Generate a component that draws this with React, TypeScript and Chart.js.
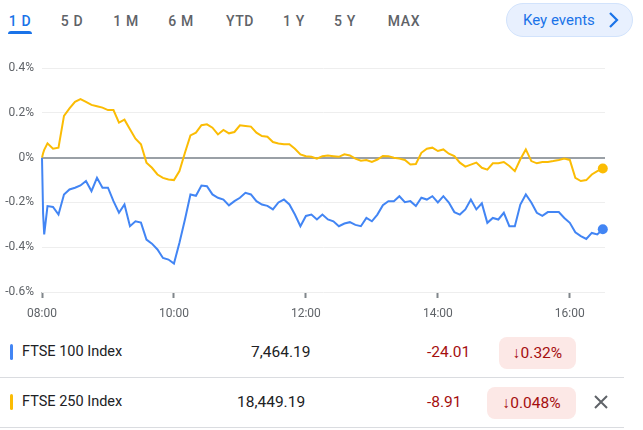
import React, { useEffect, useRef } from "react";
import { Chart, registerables } from "chart.js";

Chart.register(...registerables);

// minutes after 08:00
const minutes = [
  0, 1, 2, 5, 10, 15, 20, 25, 30, 35, 40, 45, 50, 55, 60, 65, 70, 75, 80, 85, 90, 95, 100,
  105, 110, 115, 120, 125, 130, 135, 140, 145, 150, 155, 160, 165, 170, 175, 180, 185, 190,
  195, 200, 205, 210, 215, 220, 225, 230, 235, 240, 245, 250, 255, 260, 265, 270, 275, 280,
  285, 290, 295, 300, 305, 310, 315, 320, 325, 330, 335, 340, 345, 350, 355, 360, 365, 370,
  375, 380, 385, 390, 395, 400, 405, 410, 415, 420, 425, 430, 435, 440, 445, 450, 455, 460,
  465, 470, 475, 480, 485, 490, 495, 500, 505, 510,
];

// FTSE 100 Index, % change
const ftse100 = [
  0, -0.25, -0.343, -0.216, -0.22, -0.254, -0.164, -0.142, -0.134, -0.124, -0.104, -0.149,
  -0.09, -0.134, -0.134, -0.194, -0.246, -0.209, -0.306, -0.284, -0.29, -0.366, -0.384,
  -0.41, -0.448, -0.455, -0.473, -0.38, -0.276, -0.164, -0.17, -0.124, -0.127, -0.164,
  -0.179, -0.187, -0.213, -0.194, -0.179, -0.157, -0.164, -0.194, -0.209, -0.215, -0.231,
  -0.2, -0.187, -0.209, -0.254, -0.306, -0.26, -0.254, -0.276, -0.254, -0.276, -0.284,
  -0.306, -0.294, -0.288, -0.3, -0.306, -0.269, -0.284, -0.254, -0.212, -0.194, -0.194,
  -0.172, -0.199, -0.194, -0.216, -0.179, -0.187, -0.172, -0.2, -0.172, -0.2, -0.243,
  -0.254, -0.231, -0.187, -0.231, -0.204, -0.291, -0.269, -0.276, -0.246, -0.306, -0.306,
  -0.209, -0.164, -0.2, -0.246, -0.26, -0.243, -0.243, -0.243, -0.269, -0.291, -0.333,
  -0.35, -0.363, -0.336, -0.343, -0.32,
];

// FTSE 250 Index, % change
const ftse250 = [
  0, 0.02, 0.035, 0.064, 0.04, 0.045, 0.187, 0.22, 0.25, 0.262, 0.25, 0.236, 0.23, 0.224,
  0.213, 0.213, 0.157, 0.17, 0.127, 0.085, 0.06, -0.022, -0.045, -0.075, -0.09, -0.097,
  -0.1, -0.06, 0.022, 0.1, 0.112, 0.145, 0.149, 0.134, 0.104, 0.124, 0.109, 0.115, 0.145,
  0.142, 0.139, 0.112, 0.097, 0.094, 0.07, 0.064, 0.06, 0.06, 0.04, 0.015, 0.007, 0.004,
  -0.004, 0.007, 0.01, 0.007, 0.004, 0.015, 0.01, -0.004, -0.013, -0.01, -0.019, -0.008,
  0.008, 0.007, 0, -0.004, -0.01, -0.03, -0.028, 0.022, 0.04, 0.045, 0.03, 0.037, 0.018,
  0.007, -0.022, -0.04, -0.031, -0.022, -0.045, -0.053, -0.025, -0.025, -0.019, -0.037,
  -0.06, -0.007, 0.037, -0.015, -0.025, -0.019, -0.019, -0.015, -0.01, -0.004, -0.01,
  -0.09, -0.104, -0.1, -0.075, -0.06, -0.048,
];

const xTickMinutes = [0, 120, 240, 360, 480];
const xTickLabels = ["08:00", "10:00", "12:00", "14:00", "16:00"];

const tabs = ["1 D", "5 D", "1 M", "6 M", "YTD", "1 Y", "5 Y", "MAX"];
const tabCenters = [20, 72, 126, 181, 240, 294, 345, 404];

const seriesNames = ["FTSE 100 Index", "FTSE 250 Index"];
const seriesColors = ["#4285f4", "#fbbc04"];
const prices = ["7,464.19", "18,449.19"];
const changes = ["-24.01", "-8.91"];
const pctChanges = ["0.32%", "0.048%"];

const FONT = "Roboto, Arial, sans-serif";

function LineChart() {
  const ref = useRef<HTMLCanvasElement | null>(null);
  useEffect(() => {
    if (!ref.current) return;
    const mk = (vals: number[], color: string) => ({
      data: minutes.map((m, i) => ({ x: m, y: vals[i] })),
      borderColor: color,
      backgroundColor: color,
      borderWidth: 2,
      pointRadius: (c: any) => (c.dataIndex === minutes.length - 1 ? 5 : 0),
      pointHoverRadius: 0,
      pointBorderWidth: 0,
      pointBackgroundColor: color,
      tension: 0,
      clip: 10,
    });
    const chart = new Chart(ref.current, {
      type: "line",
      data: {
        datasets: [mk(ftse100, seriesColors[0]), mk(ftse250, seriesColors[1])],
      },
      options: {
        animation: false,
        responsive: false,
        maintainAspectRatio: false,
        layout: { padding: { top: 8, right: 38, left: 0, bottom: 0 } },
        plugins: { legend: { display: false }, tooltip: { enabled: false } },
        scales: {
          x: {
            type: "linear",
            min: 0,
            max: 512,
            afterBuildTicks: (s: any) => {
              s.ticks = xTickMinutes.map((v) => ({ value: v }));
            },
            afterFit: (s: any) => {
              s.height = 33;
            },
            ticks: {
              callback: (v: any) => {
                const i = xTickMinutes.indexOf(Number(v));
                return i >= 0 ? xTickLabels[i] : "";
              },
              font: { family: FONT, size: 12 },
              color: "#5f6368",
              padding: 9,
              maxRotation: 0,
              autoSkip: false,
            },
            grid: {
              drawOnChartArea: false,
              drawTicks: true,
              tickLength: 6,
              tickWidth: 2,
              tickColor: "#80868b",
              color: "#80868b",
            },
            border: { display: false },
          },
          y: {
            min: -0.6,
            max: 0.4,
            afterBuildTicks: (s: any) => {
              s.ticks = [-0.6, -0.4, -0.2, 0, 0.2, 0.4].map((v) => ({ value: v }));
            },
            afterFit: (s: any) => {
              s.width = 42;
            },
            ticks: {
              callback: (v: any) => {
                const n = Math.round(Number(v) * 10) / 10;
                return n === 0 ? "0%" : `${n.toFixed(1)}%`;
              },
              font: { family: FONT, size: 12 },
              color: "#5f6368",
              padding: 8,
            },
            grid: {
              drawTicks: false,
              color: (c: any) =>
                c.tick && Math.abs(c.tick.value) < 1e-9 ? "#9aa0a6" : "#eeeeee",
              lineWidth: (c: any) =>
                c.tick && Math.abs(c.tick.value) < 1e-9 ? 2 : 1,
            },
            border: { display: false },
          },
        },
      } as any,
    });
    return () => chart.destroy();
  }, []);
  return (
    <canvas
      ref={ref}
      width={643}
      height={272}
      style={{ position: "absolute", left: 0, top: 53, width: 643, height: 272 }}
    />
  );
}

export default function App() {
  const rowCenters = [352, 402];
  const pillBoxes = [
    { left: 499, width: 77, top: 337, height: 32 },
    { left: 487, width: 89, top: 387, height: 32 },
  ];
  const priceLefts = [251, 237];
  return (
    <div
      style={{
        position: "fixed",
        left: 0,
        top: 0,
        width: 643,
        height: 430,
        background: "#ffffff",
        overflow: "hidden",
        fontFamily: FONT,
      }}
    >
      {tabs.map((t, i) => (
        <div
          key={t}
          style={{
            position: "absolute",
            left: tabCenters[i],
            top: 12,
            transform: "translateX(-50%)",
            fontSize: 14,
            lineHeight: "18px",
            fontWeight: 500,
            letterSpacing: 0.6,
            whiteSpace: "pre",
            color: i === 0 ? "#1a73e8" : "#5f6368",
          }}
        >
          {t}
        </div>
      ))}
      <div
        style={{
          position: "absolute",
          left: 8,
          top: 31,
          width: 24,
          height: 3,
          borderRadius: "3px 3px 0 0",
          background: "#1a73e8",
        }}
      />
      <div
        style={{
          position: "absolute",
          left: 506,
          top: 3,
          width: 125,
          height: 32,
          borderRadius: 17,
          background: "#e8f0fe",
          border: "1px solid #d2e3fc",
        }}
      >
        <div
          style={{
            position: "absolute",
            left: 16,
            top: 7,
            fontSize: 15,
            lineHeight: "18px",
            color: "#1a73e8",
            whiteSpace: "pre",
          }}
        >
          Key events
        </div>
        <svg
          width="12"
          height="18"
          viewBox="0 0 12 18"
          style={{ position: "absolute", left: 100, top: 7 }}
        >
          <path d="M3 2 L10 9 L3 16" stroke="#1a73e8" strokeWidth="2.2" fill="none" />
        </svg>
      </div>

      <LineChart />

      {seriesNames.map((n, i) => (
        <React.Fragment key={n}>
          <div
            style={{
              position: "absolute",
              left: 10,
              top: rowCenters[i] - 8,
              width: 3,
              height: 16,
              borderRadius: 2,
              background: seriesColors[i],
            }}
          />
          <div
            style={{
              position: "absolute",
              left: 22,
              top: rowCenters[i] - 10,
              fontSize: 14.5,
              lineHeight: "20px",
              color: "#202124",
              whiteSpace: "pre",
            }}
          >
            {n}
          </div>
          <div
            style={{
              position: "absolute",
              left: priceLefts[i],
              top: rowCenters[i] - 10,
              fontSize: 15.5,
              lineHeight: "20px",
              color: "#202124",
              whiteSpace: "pre",
            }}
          >
            {prices[i]}
          </div>
          <div
            style={{
              position: "absolute",
              left: 427,
              top: rowCenters[i] - 10,
              fontSize: 15.5,
              lineHeight: "20px",
              color: "#a50e0e",
              whiteSpace: "pre",
            }}
          >
            {changes[i]}
          </div>
          <div
            style={{
              position: "absolute",
              left: pillBoxes[i].left,
              top: pillBoxes[i].top,
              width: pillBoxes[i].width,
              height: pillBoxes[i].height,
              borderRadius: 8,
              background: "#fce8e6",
              color: "#a50e0e",
              fontSize: 15.5,
              display: "flex",
              alignItems: "center",
              justifyContent: "center",
              whiteSpace: "pre",
            }}
          >
            {"\u2193" + pctChanges[i]}
          </div>
          <div
            style={{
              position: "absolute",
              left: 0,
              top: rowCenters[i] + 25,
              width: 624,
              height: 1,
              background: "#dadce0",
            }}
          />
        </React.Fragment>
      ))}
      <svg
        width="16"
        height="16"
        viewBox="0 0 16 16"
        style={{ position: "absolute", left: 593, top: 394 }}
      >
        <path d="M2 2 L14 14 M14 2 L2 14" stroke="#5f6368" strokeWidth="2" fill="none" />
      </svg>
    </div>
  );
}
